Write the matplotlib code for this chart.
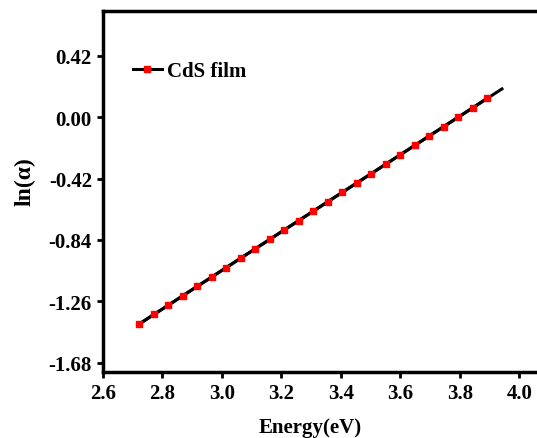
import matplotlib
matplotlib.use("Agg")
import matplotlib.pyplot as plt

energy = [2.722, 2.771, 2.820, 2.868, 2.917, 2.966, 3.014, 3.063, 3.112,
          3.161, 3.209, 3.258, 3.307, 3.355, 3.404, 3.453, 3.502, 3.550,
          3.599, 3.648, 3.696, 3.745, 3.794, 3.843, 3.891]
ln_alpha = [-1.416, -1.351, -1.287, -1.223, -1.158, -1.094, -1.030, -0.965,
            -0.901, -0.836, -0.772, -0.708, -0.643, -0.579, -0.515, -0.450,
            -0.386, -0.322, -0.257, -0.193, -0.128, -0.064, 0.001, 0.065, 0.130]
fit_x = [2.722, 3.941]
fit_y = [-1.416, 0.194]

xticks = [2.6, 2.8, 3.0, 3.2, 3.4, 3.6, 3.8, 4.0]
yticks = [-1.68, -1.26, -0.84, -0.42, 0.00, 0.42]
ytick_labels = ["-1.68", "-1.26", "-0.84", "-0.42", "0.00", "0.42"]

plt.rcParams['font.family'] = ['Liberation Serif', 'DejaVu Serif']
plt.rcParams['font.weight'] = 'bold'

fig = plt.figure(figsize=(5.37, 4.39), dpi=100)
ax = fig.add_axes([0.1918, 0.1497, 0.831, 0.8237])

ax.plot(fit_x, fit_y, color='black', lw=2.2, zorder=2)
ax.plot(energy, ln_alpha, color='black', lw=2.2, marker='s', markersize=5,
        markerfacecolor='#ff0000', markeredgecolor='#ff0000', zorder=3,
        label='CdS film')

ax.set_xlim(2.6, 4.1)
ax.set_ylim(-1.747, 0.730)
ax.set_xticks(xticks)
ax.set_xticklabels([f"{t:.1f}" for t in xticks])
ax.set_yticks(yticks)
ax.set_yticklabels(ytick_labels)

for s in ax.spines.values():
    s.set_linewidth(2.5)
ax.tick_params(direction='out', length=4, width=2, labelsize=15, pad=4)
for lab in ax.get_xticklabels() + ax.get_yticklabels():
    lab.set_fontweight('bold')

ax.set_xlabel('Energy(eV)', fontsize=15, fontweight='bold')
ax.set_ylabel('ln(α)', fontsize=17, fontweight='bold')
ax.xaxis.set_label_coords((310 - 103) / 446.25, -0.125)
ax.yaxis.set_label_coords(-0.15, 0.53)

ax.legend(loc='center left', bbox_to_anchor=(0.067, 0.833), frameon=False,
          borderpad=0, borderaxespad=0, handlelength=1.4, handletextpad=0.25,
          prop={'size': 15, 'weight': 'bold'})

fig.savefig('out.png', dpi=100)
